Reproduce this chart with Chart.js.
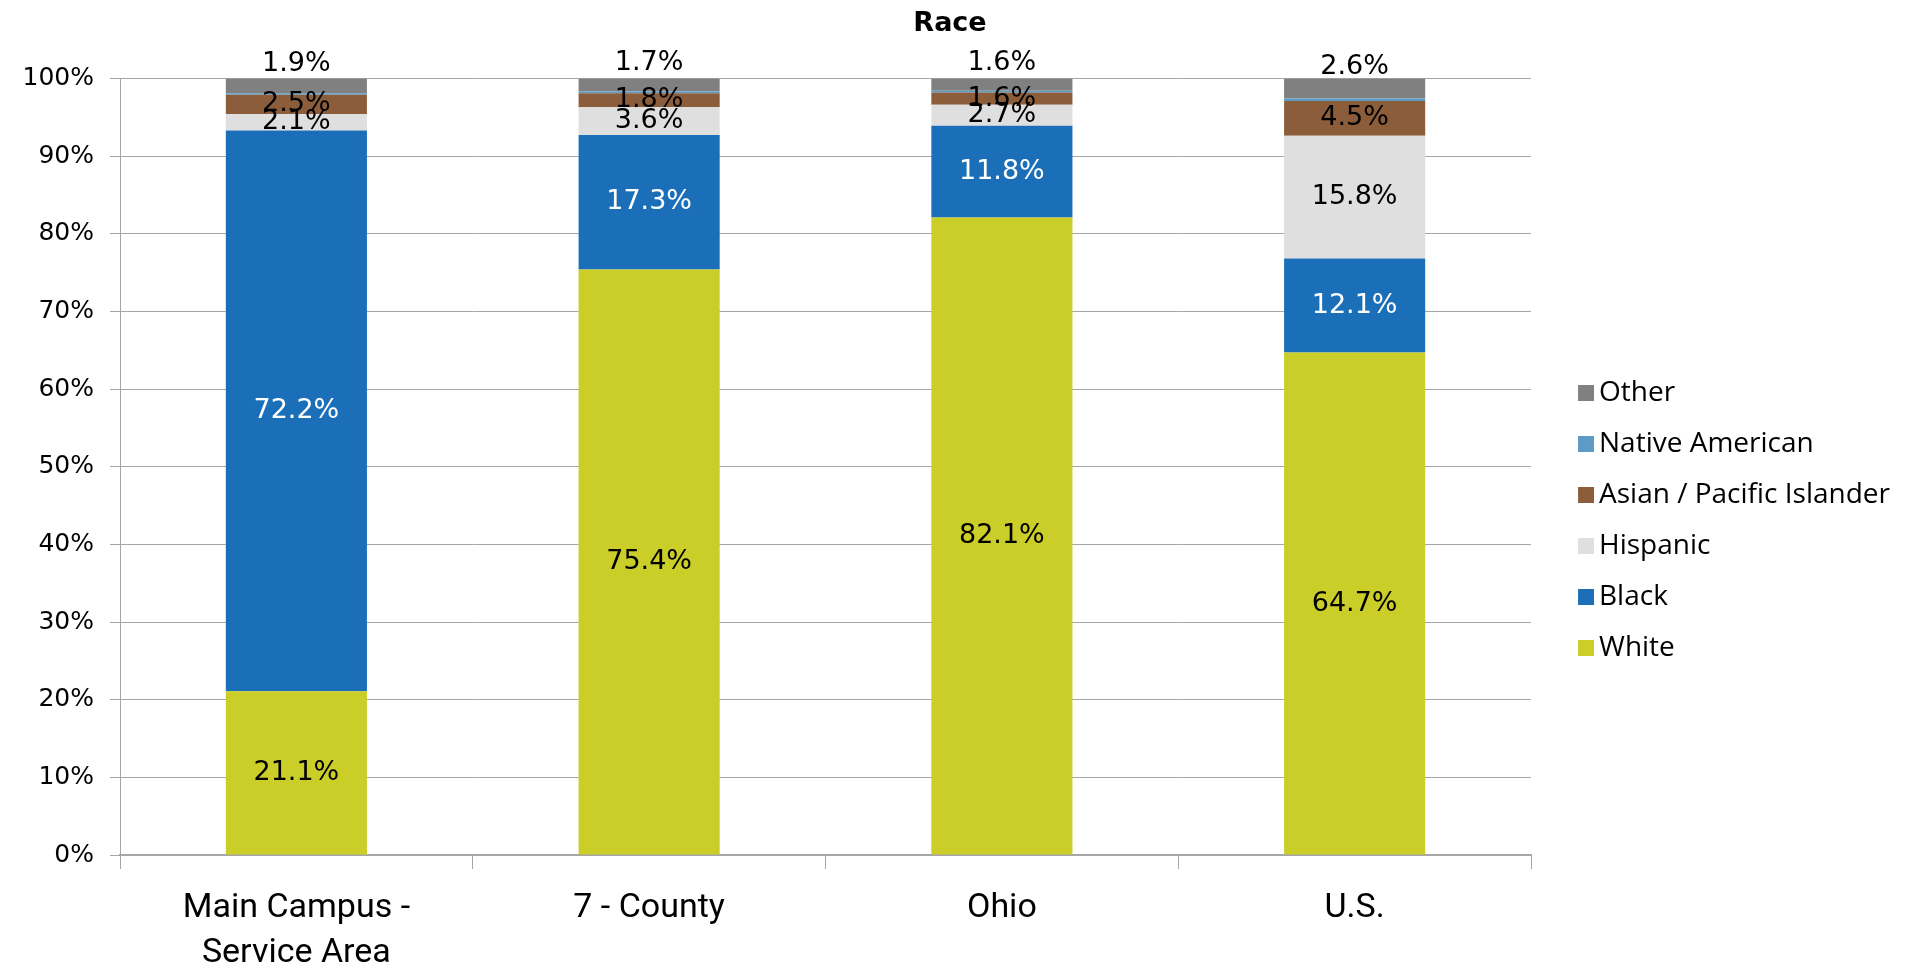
<!DOCTYPE html>
<html>
<head>
<meta charset="utf-8">
<title>Race</title>
<script src="https://cdn.jsdelivr.net/npm/chart.js@4.4.1/dist/chart.umd.min.js"></script>
<style>
  html, body { margin: 0; padding: 0; background: #fff; }
  #wrap { width: 1915px; height: 971px; position: relative; }
</style>
</head>
<body>
<div id="wrap"><canvas id="raceChart"></canvas></div>
<script>
// categories along the x axis
const areas = [["Main Campus -", "Service Area"], "7 - County", "Ohio", "U.S."];

// share of each race, in percent (bottom to top of the stack)
const white    = [21.1, 75.4, 82.1, 64.7];
const black    = [72.2, 17.3, 11.8, 12.1];
const hispanic = [2.1, 3.6, 2.7, 15.8];
const asian    = [2.5, 1.8, 1.6, 4.5];
const native   = [0.2, 0.2, 0.2, 0.3];
const other    = [1.9, 1.7, 1.6, 2.6];

const yTicks = [0, 10, 20, 30, 40, 50, 60, 70, 80, 90, 100];

const wideFont = "'DejaVu Sans', sans-serif";
const legendFont = "'Open Sans', 'Noto Sans', sans-serif";

// legend swatch: small square sitting at the right end of a wider slot,
// so there is room between the plot and the boxes
const SLOT = 31;
function makeSwatch(color) {
  const c = document.createElement("canvas");
  c.width = SLOT + 18;
  c.height = 16;
  const g = c.getContext("2d");
  g.fillStyle = color;
  g.fillRect(c.width - 16, 0, 16, 16);
  return c;
}

// draws the % value in each segment (like excel data labels)
const segmentLabels = {
  id: "segmentLabels",
  afterDatasetsDraw(chart) {
    const ctx = chart.ctx;
    ctx.save();
    ctx.font = "27px " + wideFont;
    ctx.textAlign = "center";
    ctx.textBaseline = "middle";
    chart.data.datasets.forEach((ds, i) => {
      if (ds.noLabels) return;
      const meta = chart.getDatasetMeta(i);
      meta.data.forEach((bar, j) => {
        const mid = (bar.y + bar.base) / 2 + (ds.labelShift || 0);
        ctx.fillStyle = ds.labelColor || "#000";
        ctx.fillText(ds.data[j].toFixed(1) + "%", bar.x, mid);
      });
    });
    ctx.restore();
  }
};

const ctx = document.getElementById("raceChart");
new Chart(ctx, {
  type: "bar",
  data: {
    labels: areas,
    datasets: [
      { label: "White", data: white, backgroundColor: "#CBCD29" },
      { label: "Black", data: black, backgroundColor: "#1B6FB8", labelColor: "#fff" },
      { label: "Hispanic", data: hispanic, backgroundColor: "#DFDFDF" },
      { label: "Asian / Pacific Islander", data: asian, backgroundColor: "#8B5D3B" },
      { label: "Native American", data: native, backgroundColor: "#5B9BC6", noLabels: true },
      { label: "Other", data: other, backgroundColor: "#808080", labelShift: -22 }
    ]
  },
  options: {
    responsive: true,
    maintainAspectRatio: false,
    animation: false,
    barPercentage: 0.4,
    categoryPercentage: 1,
    layout: { padding: { left: 0, right: 15, top: 0, bottom: 0 } },
    plugins: {
      title: {
        display: true,
        text: "Race",
        color: "#000",
        font: { family: wideFont, size: 27, weight: "bold" },
        padding: { top: 8, bottom: 38 }
      },
      legend: {
        position: "right",
        reverse: true,
        // empty title, only pushes the items a bit lower
        title: { display: true, text: "", padding: { top: 28, bottom: 28 } },
        labels: {
          color: "#000",
          font: { family: legendFont, size: 28 },
          usePointStyle: true,
          pointStyleWidth: SLOT,
          boxHeight: 16,
          padding: 23,
          generateLabels(chart) {
            const items = Chart.defaults.plugins.legend.labels.generateLabels(chart);
            items.forEach(it => {
              it.pointStyle = makeSwatch(chart.data.datasets[it.datasetIndex].backgroundColor);
            });
            return items;
          }
        }
      },
      tooltip: { enabled: false }
    },
    scales: {
      x: {
        stacked: true,
        grid: {
          offset: true,
          drawOnChartArea: false,
          color: "#a6a6a6",
          tickLength: 14
        },
        border: { color: "#a6a6a6", width: 2 },
        ticks: {
          color: "#000",
          font: { family: "Roboto, sans-serif", size: 34, lineHeight: 1.32 },
          maxRotation: 0,
          padding: 17
        },
        afterFit(scale) { scale.height = 116; }
      },
      y: {
        stacked: true,
        min: 0,
        max: 100,
        afterBuildTicks(scale) { scale.ticks = yTicks.map(v => ({ value: v })); },
        grid: { color: "#a6a6a6", tickLength: 10 },
        border: { color: "#a6a6a6" },
        ticks: {
          color: "#000",
          font: { family: wideFont, size: 25 },
          padding: 16,
          callback: v => v + "%"
        },
        afterFit(scale) { scale.width = 120; }
      }
    }
  },
  plugins: [segmentLabels]
});
</script>
</body>
</html>
